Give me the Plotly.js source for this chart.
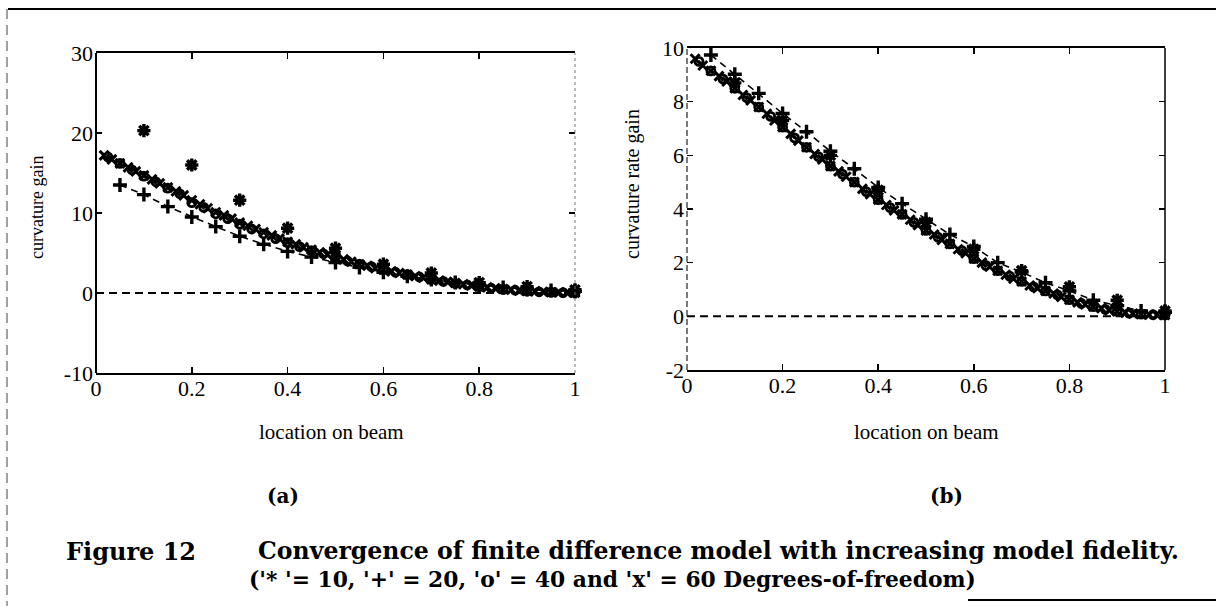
<!DOCTYPE html>
<html>
<head>
<meta charset="utf-8">
<script src="https://cdn.plot.ly/plotly-3.0.1.min.js"></script>
<style>
html,body{margin:0;padding:0;background:#fff;}
#chart{width:1216px;height:606px;}
</style>
</head>
<body>
<div id="chart"></div>
<script>
// ---------- DATA ----------
// (a) curvature gain
const a10x = [0.1,0.2,0.3,0.4,0.5,0.6,0.7,0.8,0.9,1.0];
const a10y = [20.3,16.0,11.6,8.1,5.6,3.6,2.5,1.3,0.8,0.4];

const a20x = [0.05,0.1,0.15,0.2,0.25,0.3,0.35,0.4,0.45,0.5,0.55,0.6,0.65,0.7,0.75,0.8,0.85,0.9,0.95,1.0];
const a20y = [13.5,12.3,10.8,9.5,8.3,7.1,6.1,5.2,4.5,3.8,3.2,2.6,2.1,1.7,1.3,1.0,0.7,0.45,0.3,0.2];

const a40x = [0.025,0.05,0.075,0.1,0.125,0.15,0.175,0.2,0.225,0.25,0.275,0.3,0.325,0.35,0.375,0.4,0.425,0.45,0.475,0.5,
              0.525,0.55,0.575,0.6,0.625,0.65,0.675,0.7,0.725,0.75,0.775,0.8,0.825,0.85,0.875,0.9,0.925,0.95,0.975,1.0];
const a40y = [17.0,16.2,15.4,14.6,13.9,13.1,12.4,11.3,10.7,9.9,9.3,8.6,8.0,7.4,6.8,6.3,5.8,5.3,4.9,4.5,
              4.0,3.6,3.3,2.9,2.6,2.3,2.0,1.7,1.45,1.2,1.0,0.8,0.6,0.45,0.35,0.25,0.15,0.1,0.05,0.05];

const a60x = [0.017,0.033,0.05,0.067,0.083,0.1,0.117,0.133,0.15,0.167,0.183,0.2,0.217,0.233,0.25,0.267,0.283,0.3,0.317,0.333,
              0.35,0.367,0.383,0.4,0.417,0.433,0.45,0.467,0.483,0.5,0.517,0.533,0.55,0.567,0.583,0.6,0.617,0.633,0.65,0.667,
              0.683,0.7,0.717,0.733,0.75,0.767,0.783,0.8,0.817,0.833,0.85,0.867,0.883,0.9,0.917,0.933,0.95,0.967,0.983,1.0];
const a60y = [17.2,16.7,16.2,15.7,15.2,14.7,14.2,13.7,13.2,12.7,12.2,11.6,11.1,10.6,10.1,9.7,9.3,8.8,8.4,8.0,
              7.6,7.2,6.8,6.4,6.1,5.7,5.4,5.1,4.8,4.5,4.2,3.9,3.6,3.4,3.1,2.9,2.7,2.5,2.3,2.1,
              1.9,1.7,1.55,1.4,1.25,1.1,0.95,0.8,0.7,0.6,0.5,0.4,0.3,0.25,0.2,0.15,0.1,0.08,0.05,0.05];

// (b) curvature rate gain
const b10x = [0.1,0.2,0.3,0.4,0.5,0.6,0.7,0.8,0.9,1.0];
const b10y = [8.7,7.3,6.0,4.7,3.5,2.5,1.7,1.1,0.6,0.2];

const b20x = [0.05,0.1,0.15,0.2,0.25,0.3,0.35,0.4,0.45,0.5,0.55,0.6,0.65,0.7,0.75,0.8,0.85,0.9,0.95,1.0];
const b20y = [9.74,9.02,8.31,7.56,6.88,6.15,5.5,4.8,4.2,3.62,3.05,2.6,2.0,1.65,1.25,0.95,0.6,0.4,0.2,0.15];

const b40x = [0.025,0.05,0.075,0.1,0.125,0.15,0.175,0.2,0.225,0.25,0.275,0.3,0.325,0.35,0.375,0.4,0.425,0.45,0.475,0.5,
              0.525,0.55,0.575,0.6,0.625,0.65,0.675,0.7,0.725,0.75,0.775,0.8,0.825,0.85,0.875,0.9,0.925,0.95,0.975,1.0];
const b40y = [9.5,9.15,8.85,8.5,8.15,7.8,7.45,7.05,6.65,6.3,5.95,5.6,5.3,5.0,4.65,4.35,4.05,3.8,3.5,3.2,
              2.95,2.7,2.45,2.15,1.9,1.7,1.5,1.3,1.1,0.95,0.8,0.62,0.48,0.36,0.26,0.18,0.12,0.08,0.06,0.05];

const b60x = [0.017,0.033,0.05,0.067,0.083,0.1,0.117,0.133,0.15,0.167,0.183,0.2,0.217,0.233,0.25,0.267,0.283,0.3,0.317,0.333,
              0.35,0.367,0.383,0.4,0.417,0.433,0.45,0.467,0.483,0.5,0.517,0.533,0.55,0.567,0.583,0.6,0.617,0.633,0.65,0.667,
              0.683,0.7,0.717,0.733,0.75,0.767,0.783,0.8,0.817,0.833,0.85,0.867,0.883,0.9,0.917,0.933,0.95,0.967,0.983,1.0];
const b60y = [9.6,9.35,9.15,8.95,8.75,8.5,8.25,8.05,7.8,7.55,7.3,7.05,6.8,6.55,6.3,6.05,5.85,5.6,5.4,5.2,
              5.0,4.75,4.55,4.35,4.15,3.95,3.8,3.6,3.4,3.2,3.05,2.85,2.7,2.5,2.35,2.15,2.0,1.85,1.7,1.55,
              1.4,1.3,1.15,1.05,0.95,0.85,0.72,0.62,0.52,0.44,0.36,0.3,0.23,0.18,0.14,0.1,0.08,0.06,0.05,0.05];

const zeroX = [0, 1];
const zeroY = [0, 0];

const xTickVals = [0,0.2,0.4,0.6,0.8,1];
const xTickText = ['0','0.2','0.4','0.6','0.8','1'];
const aTickVals = [-10,0,10,20,30];
const aTickText = ['-10','0','10','20','30'];
const bTickVals = [-2,0,2,4,6,8,10];
const bTickText = ['-2','0','2','4','6','8','10'];

const xTitle = 'location on beam';
const aTitle = 'curvature gain';
const bTitle = 'curvature rate gain';
const panelA = '(a)';
const panelB = '(b)';
const captionLabel = 'Figure 12';
const captionLine1 = 'Convergence of finite difference model with increasing model fidelity.';
const captionLine2 = "('* '= 10, '+' = 20, 'o' = 40 and 'x' = 60 Degrees-of-freedom)";

// ---------- LAYOUT HELPERS ----------
const W = 1216, H = 606;
const px = v => v / W;
const py = v => 1 - v / H;
const INK = '#000';

function series(xs, ys, xa, ya, style) {
  return Object.assign({x: xs, y: ys, xaxis: xa, yaxis: ya, type: 'scatter', showlegend: false, hoverinfo: 'skip', cliponaxis: false}, style);
}
const s10 = {mode: 'markers', marker: {symbol: 'asterisk-open', size: 11, color: INK, line: {color: INK, width: 3.4}}};
const s20 = {mode: 'lines+markers', line: {color: INK, width: 1.6, dash: '7px,5px'},
             marker: {symbol: 'cross-thin-open', size: 10, color: INK, line: {color: INK, width: 3.4}}};
const s40 = {mode: 'markers', marker: {symbol: 'circle-open', size: 8, color: INK, line: {color: INK, width: 2.8}}};
const s60 = {mode: 'markers', marker: {symbol: 'x-thin-open', size: 9, color: INK, line: {color: INK, width: 3}}};
const sZero = {mode: 'lines', line: {color: INK, width: 2, dash: '8px,5px'}};

const data = [
  series(zeroX, zeroY, 'x', 'y', sZero),
  series(a60x, a60y, 'x', 'y', s60),
  series(a40x, a40y, 'x', 'y', s40),
  series(a20x, a20y, 'x', 'y', s20),
  series(a10x, a10y, 'x', 'y', s10),
  series(zeroX, zeroY, 'x2', 'y2', sZero),
  series(b60x, b60y, 'x2', 'y2', s60),
  series(b40x, b40y, 'x2', 'y2', s40),
  series(b20x, b20y, 'x2', 'y2', s20),
  series(b10x, b10y, 'x2', 'y2', s10)
];

const serif = '"Liberation Serif", "Times New Roman", serif';
const boldSerif = '"DejaVu Serif", serif';
const tickFont = {family: serif, size: 22, color: INK};

function xAxis(domain, anchor) {
  return {domain: domain, anchor: anchor, range: [0, 1], tickmode: 'array', tickvals: xTickVals, ticktext: xTickText,
          ticks: 'inside', ticklen: 6, tickwidth: 1.5, tickcolor: INK, showline: true, linecolor: INK, linewidth: 2,
          mirror: 'ticks', showgrid: false, zeroline: false, tickfont: tickFont, ticklabelstandoff: -5, fixedrange: true};
}
function yAxis(domain, anchor, range, vals, text) {
  return {domain: domain, anchor: anchor, range: range, tickmode: 'array', tickvals: vals, ticktext: text,
          ticks: 'inside', ticklen: 6, tickwidth: 1.5, tickcolor: INK, showline: false,
          mirror: 'ticks', showgrid: false, zeroline: false, tickfont: tickFont, ticklabelstandoff: 2, fixedrange: true};
}

function ann(text, x, y, opts) {
  return Object.assign({text: text, x: px(x), y: py(y), xref: 'paper', yref: 'paper', showarrow: false,
                        xanchor: 'center', yanchor: 'middle', font: {family: serif, size: 20, color: INK}}, opts || {});
}
function border(xref, yref, side, style) {
  const s = {type: 'line', xref: xref, yref: yref, y0: 0, y1: 1, line: style, layer: 'above'};
  s.x0 = s.x1 = side;
  return s;
}

const layout = {
  width: W, height: H,
  margin: {l: 0, r: 0, t: 0, b: 0, pad: 0},
  paper_bgcolor: '#fff', plot_bgcolor: '#fff',
  showlegend: false,
  xaxis: xAxis([px(96), px(575)], 'y'),
  yaxis: yAxis([py(373), py(53)], 'x', [-10, 30], aTickVals, aTickText),
  xaxis2: xAxis([px(687), px(1165)], 'y2'),
  yaxis2: yAxis([py(370), py(48)], 'x2', [-2, 10], bTickVals, bTickText),
  annotations: [
    ann(aTitle, 37, 208, {textangle: -90, font: {family: serif, size: 18, color: INK}}),
    ann(bTitle, 632, 184, {textangle: -90, font: {family: serif, size: 20, color: INK}}),
    ann(xTitle, 331, 432, {font: {family: serif, size: 21, color: INK}}),
    ann(xTitle, 926, 432, {font: {family: serif, size: 21, color: INK}}),
    ann('<b>' + panelA + '</b>', 283, 496, {font: {family: boldSerif, size: 20, color: INK}}),
    ann('<b>' + panelB + '</b>', 946, 496, {font: {family: boldSerif, size: 20, color: INK}}),
    ann('<b>' + captionLabel + '</b>', 64, 551, {xanchor: 'left', font: {family: boldSerif, size: 24, color: INK}}),
    ann('<b>' + captionLine1 + '</b>', 256, 551, {xanchor: 'left', font: {family: boldSerif, size: 23.6, color: INK}}),
    ann('<b>' + captionLine2 + '</b>', 247, 579, {xanchor: 'left', font: {family: boldSerif, size: 21.8, color: INK}})
  ],
  shapes: [
    // panel borders (left / right sides)
    border('x domain', 'y domain', 0, {color: INK, width: 2}),
    border('x domain', 'y domain', 1, {color: '#777', width: 1, dash: 'dot'}),
    border('x2 domain', 'y2 domain', 0, {color: '#222', width: 1.2, dash: '6px,3px'}),
    border('x2 domain', 'y2 domain', 1, {color: INK, width: 1.5}),
    // page frame
    {type: 'line', xref: 'paper', yref: 'paper', x0: px(8), x1: 1, y0: py(9), y1: py(9), line: {color: INK, width: 2}},
    {type: 'line', xref: 'paper', yref: 'paper', x0: px(7), x1: px(7), y0: py(9), y1: 0, line: {color: '#444', width: 1, dash: '10px,6px'}},
    {type: 'line', xref: 'paper', yref: 'paper', x0: px(968), x1: 1, y0: py(600), y1: py(600), line: {color: INK, width: 2}}
  ]
};

Plotly.newPlot('chart', data, layout, {displayModeBar: false, staticPlot: true});
</script>
</body>
</html>
